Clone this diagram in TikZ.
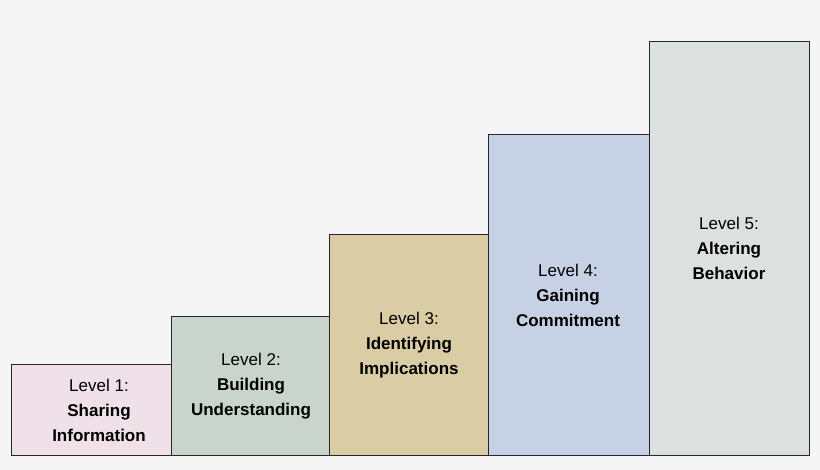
\documentclass[tikz,border=0pt]{standalone}
\usepackage{fontspec}
\setmainfont{Liberation Sans}
\begin{document}
\begin{tikzpicture}[x=1pt,y=-1pt,
  bar/.style={draw=black!85,line width=0.9pt},
  lbl/.style={align=center,font=\fontsize{17}{25}\selectfont,inner sep=0pt}]
\useasboundingbox[fill={rgb,255:red,245;green,245;blue,245}] (0,0) rectangle (820,470);
\definecolor{c1}{RGB}{240,224,232}
\definecolor{c2}{RGB}{200,212,204}
\definecolor{c3}{RGB}{218,204,164}
\definecolor{c4}{RGB}{199,209,230}
\definecolor{c5}{RGB}{220,224,222}
\draw[bar,fill=c1] (11,364) rectangle (171,455);
\draw[bar,fill=c2] (171,316) rectangle (329,455);
\draw[bar,fill=c3] (329,234) rectangle (488,455);
\draw[bar,fill=c4] (488,134) rectangle (649,455);
\draw[bar,fill=c5] (649,41) rectangle (809,455);
\node[lbl] (t1) at (99,410) {Level 1:\\\textbf{Sharing}\\\textbf{Information}};
\node[lbl] (t2) at (251,386) {Level 2:\\\textbf{Building}\\\textbf{Understanding}};
\node[lbl] (t3) at (409,345) {Level 3:\\\textbf{Identifying}\\\textbf{Implications}};
\node[lbl] (t4) at (568,295) {Level 4:\\\textbf{Gaining}\\\textbf{Commitment}};
\node[lbl] (t5) at (729,248) {Level 5:\\\textbf{Altering}\\\textbf{Behavior}};
\end{tikzpicture}
\end{document}
